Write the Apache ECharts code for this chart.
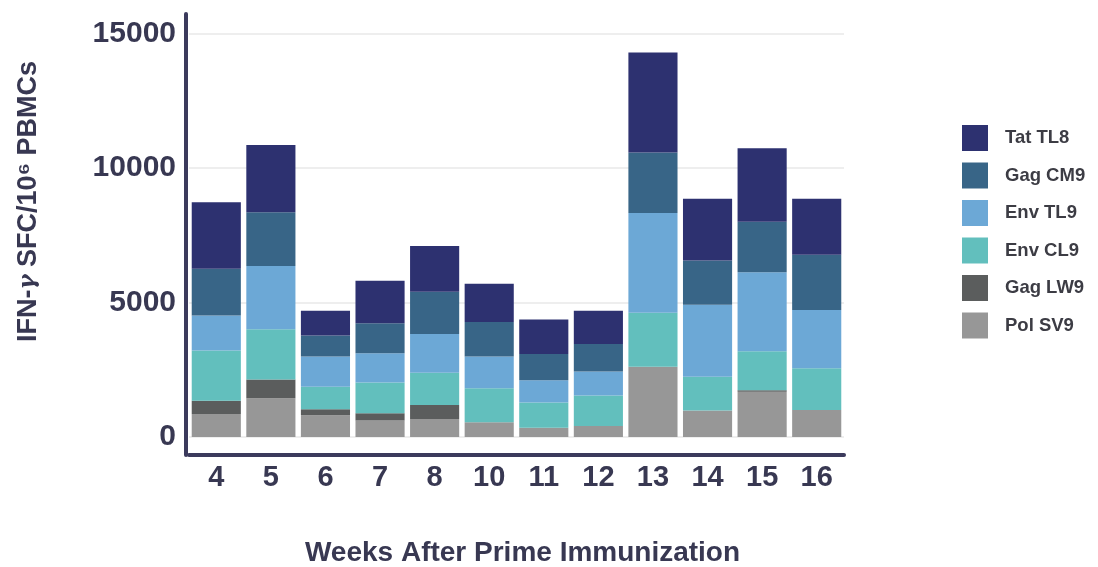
<!DOCTYPE html>
<html>
<head>
<meta charset="utf-8">
<script src="https://cdn.jsdelivr.net/npm/echarts@6/dist/echarts.min.js"></script>
<style>html,body{margin:0;padding:0;background:#fff}#c{width:1098px;height:567px}</style>
</head>
<body>
<div id="c"></div>
<script>
const weeks = ['4','5','6','7','8','10','11','12','13','14','15','16'];
const polSV9  = [850, 1440, 810, 610, 670, 550, 340, 410, 2610, 980, 1680, 1000];
const gagLW9  = [500, 700, 220, 270, 520, 0, 0, 0, 0, 0, 60, 0];
const envCL9  = [1860, 1860, 840, 1140, 1200, 1260, 940, 1130, 2010, 1260, 1450, 1550];
const envTL9  = [1300, 2350, 1120, 1090, 1440, 1180, 830, 890, 3700, 2670, 2930, 2170];
const gagCM9  = [1740, 2000, 780, 1120, 1570, 1280, 970, 1030, 2250, 1650, 1880, 2050];
const tatTL8  = [2470, 2500, 920, 1580, 1700, 1420, 1290, 1230, 3720, 2290, 2730, 2080];
const yTicks = [0, 5000, 10000, 15000];

const seriesDefs = [
  {name: 'Pol SV9', data: polSV9, color: '#979797'},
  {name: 'Gag LW9', data: gagLW9, color: '#5b5d5d'},
  {name: 'Env CL9', data: envCL9, color: '#62bfbd'},
  {name: 'Env TL9', data: envTL9, color: '#6ca8d6'},
  {name: 'Gag CM9', data: gagCM9, color: '#386587'},
  {name: 'Tat TL8', data: tatTL8, color: '#2d3170'}
];
const txt = '#383852';
const font = 'Liberation Sans';
const chart = echarts.init(document.getElementById('c'));
chart.setOption({
  animation: false,
  textStyle: {fontFamily: font},
  grid: {left: 189, right: 254, top: 14, bottom: 112, containLabel: false, outerBoundsMode: 'none'},
  legend: {
    orient: 'vertical', left: 957, top: 120,
    data: ['Tat TL8','Gag CM9','Env TL9','Env CL9','Gag LW9','Pol SV9'],
    itemWidth: 26, itemHeight: 26, itemGap: 11.5,
    icon: 'rect',
    textStyle: {fontFamily: font, fontWeight: 'bold', fontSize: 18.5, color: '#3c3c44', padding: [0,0,0,12]}
  },
  xAxis: {
    type: 'category', data: weeks,
    name: 'Weeks After Prime Immunization', nameLocation: 'middle', nameGap: 84,
    nameTextStyle: {fontFamily: font, fontWeight: 'bold', fontSize: 28, color: txt, padding: [0, 0, 0, 12]},
    axisLine: {show: true, onZero: false, lineStyle: {color: '#3b3a5c', width: 4}},
    axisTick: {show: false},
    axisLabel: {fontFamily: font, fontWeight: 'bold', fontSize: 29, color: txt, margin: 8}
  },
  yAxis: {
    type: 'value', min: -670, max: 15720, offset: 3,
    name: '{a|IFN-}{g|γ}{a| SFC/10⁶ PBMCs}', nameLocation: 'middle', nameGap: 144, nameRotate: 90,
    nameTextStyle: {
      fontFamily: font, fontWeight: 'bold', fontSize: 27, color: txt, padding: [0, 0, 0, 66],
      rich: {
        a: {fontFamily: font, fontWeight: 'bold', fontSize: 27, color: txt},
        g: {fontFamily: 'DejaVu Serif', fontStyle: 'italic', fontSize: 23, color: txt}
      }
    },
    axisLine: {show: true, lineStyle: {color: '#3b3a5c', width: 4}},
    axisTick: {show: false, customValues: yTicks},
    axisLabel: {customValues: yTicks, formatter: v => String(v), fontFamily: font, fontWeight: 'bold', fontSize: 30, color: txt, margin: 10},
    splitLine: {show: true, lineStyle: {color: '#e9e9e9', width: 1.5}}
  },
  series: seriesDefs.map(s => ({
    name: s.name, type: 'bar', stack: 'all', data: s.data,
    barCategoryGap: '10%',
    itemStyle: {color: s.color}
  }))
});
</script>
</body>
</html>
